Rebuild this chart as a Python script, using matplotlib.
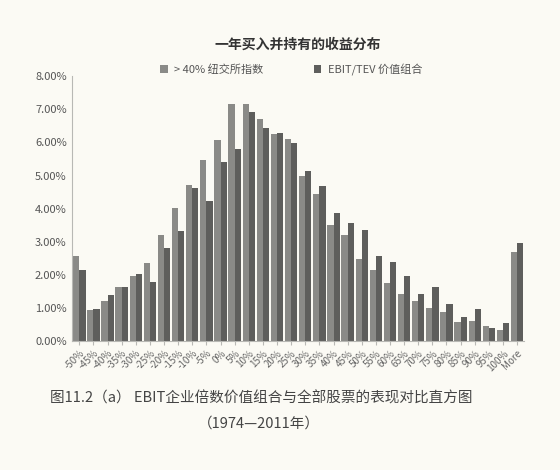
import numpy as np
import matplotlib
matplotlib.use('Agg')
import matplotlib.pyplot as plt
from matplotlib.ticker import FuncFormatter

plt.rcParams['font.family'] = ['Noto Sans CJK SC', 'DejaVu Sans']

# return buckets and frequency (share of years)
buckets = ['-50%', '-45%', '-40%', '-35%', '-30%', '-25%', '-20%', '-15%', '-10%', '-5%',
           '0%', '5%', '10%', '15%', '20%', '25%', '30%', '35%', '40%', '45%', '50%',
           '55%', '60%', '65%', '70%', '75%', '80%', '85%', '90%', '95%', '100%', 'More']
nyse_40 = [2.58, 0.93, 1.22, 1.63, 1.98, 2.35, 3.21, 4.02, 4.72, 5.47,
           6.08, 7.17, 7.17, 6.71, 6.24, 6.11, 4.98, 4.45, 3.50, 3.20, 2.49,
           2.15, 1.75, 1.43, 1.20, 1.00, 0.89, 0.59, 0.60, 0.46, 0.35, 2.68]
ebit_tev = [2.14, 0.98, 1.38, 1.63, 2.03, 1.80, 2.81, 3.34, 4.63, 4.24,
            5.40, 5.81, 6.92, 6.42, 6.28, 5.99, 5.13, 4.69, 3.87, 3.58, 3.37,
            2.57, 2.40, 1.98, 1.44, 1.65, 1.13, 0.73, 0.98, 0.41, 0.56, 2.97]
labels = ['> 40% 纽交所指数', 'EBIT/TEV 价值组合']

bg = '#fbfaf4'
fig = plt.figure(figsize=(5.6, 4.7), dpi=100, facecolor=bg)
ax = fig.add_axes([0.129, 0.274, 0.807, 0.564], facecolor=bg)

x = np.arange(len(buckets))
w = 0.44
ax.bar(x - w / 2, nyse_40, width=w, color='#8a8a87', label=labels[0])
ax.bar(x + w / 2, ebit_tev, width=w, color='#5e5e5c', label=labels[1])

ax.set_xlim(-0.5, len(buckets) - 0.5)
ax.set_ylim(0, 8)
ax.set_yticks(np.arange(0, 8.01, 1))
ax.yaxis.set_major_formatter(FuncFormatter(lambda v, p: '%.2f%%' % v))
ax.set_xticks(x)
ax.set_xticklabels(buckets, rotation=45, ha='right', rotation_mode='anchor')

for s in ['top', 'right']:
    ax.spines[s].set_visible(False)
for s in ['left', 'bottom']:
    ax.spines[s].set_color('#b8b8b4')
    ax.spines[s].set_linewidth(0.8)
ax.tick_params(axis='y', length=0, labelsize=8, labelcolor='#555555', pad=4)
ax.tick_params(axis='x', length=3, color='#b8b8b4', labelsize=7, labelcolor='#666666', pad=2)

fig.text(0.532, 0.905, '一年买入并持有的收益分布', ha='center', va='center',
         fontsize=10, fontweight='bold', color='#333333')
fig.legend(loc='center', bbox_to_anchor=(0.52, 0.852), ncol=2, frameon=False,
           fontsize=8, labelcolor='#555555', handlelength=0.7, handleheight=0.7,
           columnspacing=4.5, handletextpad=0.6)

fig.text(0.467, 0.153, '图11.2（a） EBIT企业倍数价值组合与全部股票的表现对比直方图',
         ha='center', va='center', fontsize=10.5, color='#444444')
fig.text(0.462, 0.099, '（1974—2011年）', ha='center', va='center',
         fontsize=10.5, color='#444444')

fig.savefig('out.png', dpi=100, facecolor=bg)
